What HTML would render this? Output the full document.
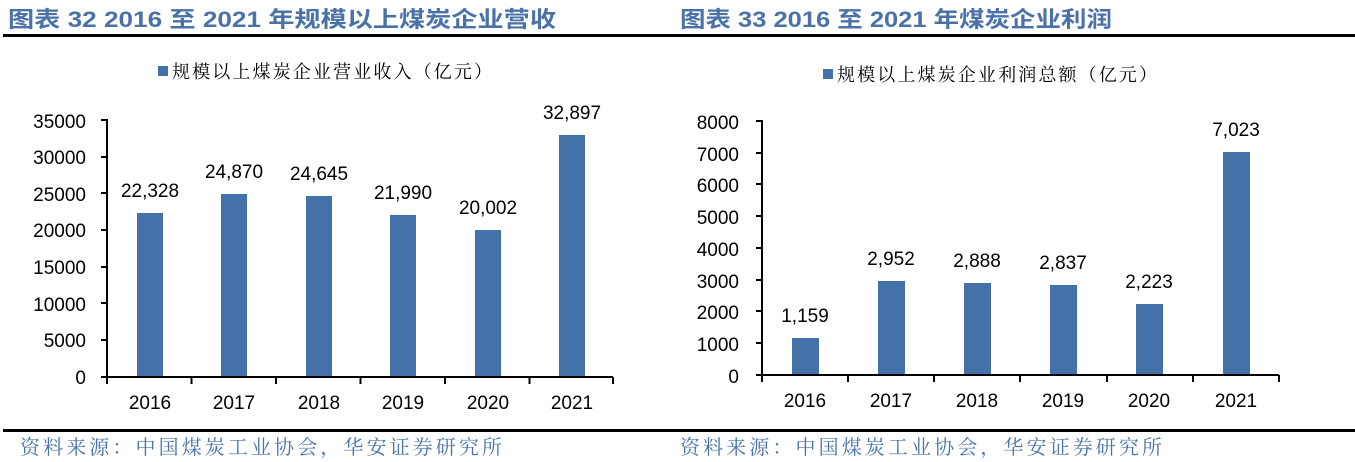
<!DOCTYPE html>
<html><head><meta charset="utf-8"><style>
html,body{margin:0;padding:0;background:#fff;}
svg{display:block;}
</style></head><body>
<svg width="1355" height="462" xmlns="http://www.w3.org/2000/svg" font-family="Liberation Sans, Noto Sans CJK SC, sans-serif">
<g font-weight="bold" fill="#4a72a8" font-size="22">
<text x="8" y="27" textLength="548" lengthAdjust="spacingAndGlyphs">图表 32 2016 至 2021 年规模以上煤炭企业营收</text>
<text x="680" y="27" textLength="432" lengthAdjust="spacingAndGlyphs">图表 33 2016 至 2021 年煤炭企业利润</text>
</g>
<rect x="3" y="34" width="1352" height="3" fill="#000"/>
<rect x="3" y="429" width="1352" height="3" fill="#000"/>
<g fill="#4a72a8" font-size="20" font-family="Noto Serif CJK SC, serif">
<text x="20" y="454" textLength="482" lengthAdjust="spacing">资料来源：中国煤炭工业协会，华安证券研究所</text>
<text x="680" y="454" textLength="482" lengthAdjust="spacing">资料来源：中国煤炭工业协会，华安证券研究所</text>
</g>
<!-- legends -->
<rect x="158" y="66" width="10" height="10" fill="#4472a8"/>
<text x="172" y="78" font-size="18" font-family="Noto Serif CJK SC, serif" fill="#000" textLength="320" lengthAdjust="spacing">规模以上煤炭企业营业收入（亿元）</text>
<rect x="823" y="69" width="10" height="10" fill="#4472a8"/>
<text x="837" y="81" font-size="18" font-family="Noto Serif CJK SC, serif" fill="#000" textLength="320" lengthAdjust="spacing">规模以上煤炭企业利润总额（亿元）</text>

<!-- left chart -->
<g font-size="19" fill="#000">
<g text-anchor="end">
<text x="86" y="384">0</text><text x="86" y="347">5000</text><text x="86" y="311">10000</text><text x="86" y="274">15000</text><text x="86" y="237">20000</text><text x="86" y="201">25000</text><text x="86" y="164">30000</text><text x="86" y="128">35000</text>
</g>
<g fill="#4472a8">
<rect x="137" y="213" width="26" height="164"/>
<rect x="221" y="194" width="26" height="183"/>
<rect x="306" y="196" width="26" height="181"/>
<rect x="390" y="215" width="26" height="162"/>
<rect x="475" y="230" width="26" height="147"/>
<rect x="559" y="135" width="26" height="242"/>
</g>
<g text-anchor="middle">
<text x="150" y="197">22,328</text><text x="234" y="178">24,870</text><text x="319" y="180">24,645</text><text x="403" y="199">21,990</text><text x="488" y="214">20,002</text><text x="572" y="119">32,897</text>
<text x="150" y="409">2016</text><text x="234" y="409">2017</text><text x="319" y="409">2018</text><text x="403" y="409">2019</text><text x="488" y="409">2020</text><text x="572" y="409">2021</text>
</g>
<g stroke="#000" stroke-width="2" fill="none">
<path d="M101 120H107V377M101 157H107M101 193H107M101 230H107M101 267H107M101 303H107M101 340H107M101 377H613"/>
<path d="M107 377V384M191.5 377V384M276 377V384M360.5 377V384M445 377V384M529.5 377V384M613 377V384"/>
</g>
</g>

<!-- right chart -->
<g font-size="19" fill="#000">
<g text-anchor="end">
<text x="739" y="383">0</text><text x="739" y="351">1000</text><text x="739" y="319">2000</text><text x="739" y="288">3000</text><text x="739" y="256">4000</text><text x="739" y="224">5000</text><text x="739" y="192">6000</text><text x="739" y="161">7000</text><text x="739" y="129">8000</text>
</g>
<g fill="#4472a8">
<rect x="792" y="338" width="27" height="37"/>
<rect x="878" y="281" width="27" height="94"/>
<rect x="964" y="283" width="27" height="92"/>
<rect x="1050" y="285" width="27" height="90"/>
<rect x="1136" y="304" width="27" height="71"/>
<rect x="1223" y="152" width="27" height="223"/>
</g>
<g text-anchor="middle">
<text x="805" y="322">1,159</text><text x="891" y="265">2,952</text><text x="977" y="267">2,888</text><text x="1063" y="269">2,837</text><text x="1149" y="288">2,223</text><text x="1236" y="136">7,023</text>
<text x="805" y="407">2016</text><text x="891" y="407">2017</text><text x="977" y="407">2018</text><text x="1063" y="407">2019</text><text x="1149" y="407">2020</text><text x="1236" y="407">2021</text>
</g>
<g stroke="#000" stroke-width="2" fill="none">
<path d="M756 121H762V375M756 153H762M756 184H762M756 216H762M756 248H762M756 280H762M756 311H762M756 343H762M756 375H1279"/>
<path d="M762 375V382M848 375V382M934 375V382M1020 375V382M1107 375V382M1193 375V382M1279 375V382"/>
</g>
</g>
</svg>
</body></html>
